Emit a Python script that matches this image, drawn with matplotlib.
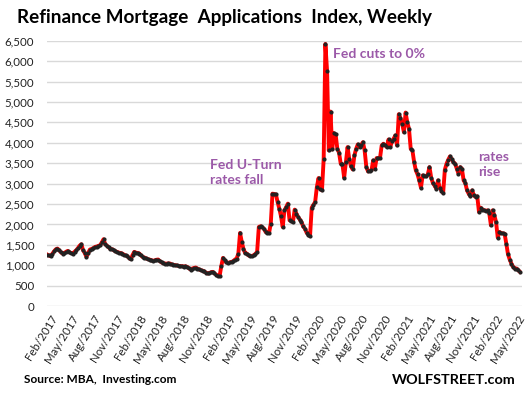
import numpy as np
import pandas as pd
import matplotlib
matplotlib.use("Agg")
from matplotlib import pyplot as plt
import matplotlib.dates as mdates
from matplotlib.ticker import FuncFormatter

plt.rcParams['font.family'] = ['Lato', 'DejaVu Sans']

# weekly refinance index (first week: 20 Jan 2017)
start = "2017-01-20"
refi_index = [
    1263, 1240, 1222, 1280, 1340, 1390, 1410, 1370, 1320, 1287,
    1300, 1330, 1352, 1320, 1300, 1287, 1330, 1369, 1420, 1480,
    1515, 1369, 1300, 1206, 1300, 1385, 1400, 1420, 1450, 1460,
    1475, 1491, 1560, 1638, 1515, 1480, 1440, 1400, 1393, 1370,
    1340, 1328, 1310, 1300, 1287, 1260, 1240, 1222, 1180, 1149,
    1250, 1328, 1310, 1300, 1287, 1240, 1200, 1190, 1170, 1149,
    1140, 1125, 1108, 1120, 1135, 1141, 1100, 1070, 1050, 1043,
    1040, 1045, 1043, 1020, 1010, 1002, 995, 985, 980, 978,
    970, 975, 961, 930, 896, 920, 935, 945, 920, 900,
    880, 870, 850, 820, 799, 810, 830, 839, 800, 770,
    740, 733, 977, 1181, 1120, 1070, 1059, 1070, 1083, 1100,
    1140, 1165, 1287, 1792, 1572, 1400, 1300, 1287, 1240, 1222,
    1230, 1246, 1280, 1328, 1939, 1955, 1930, 1898, 1816, 1800,
    1792, 2020, 2754, 2745, 2737, 2549, 2387, 2200, 1939, 2346,
    2420, 2510, 2102, 2080, 2061, 2363, 2265, 2183, 2120, 2061,
    1950, 1898, 1800, 1750, 1711, 2412, 2480, 2549, 2916, 3136,
    2875, 2835, 3609, 6420, 5750, 3812, 4765, 3837, 4235, 4203,
    3853, 3756, 3487, 3470, 3145, 3527, 3894, 3600, 3421, 3348,
    3690, 3850, 3959, 3894, 3950, 4015, 3812, 3405, 3299, 3310,
    3324, 3568, 3365, 3625, 3620, 3625, 3935, 3976, 3940, 3894,
    4081, 3894, 4032, 4100, 4179, 3935, 4700, 4600, 4465, 4260,
    4740, 4500, 4340, 3853, 3812, 3527, 3324, 3226, 3079, 2900,
    3201, 3190, 3177, 3226, 3405, 3145, 3013, 2950, 2876, 3079,
    2900, 2830, 2769, 3340, 3487, 3585, 3666, 3600, 3527, 3487,
    3365, 3243, 3405, 3365, 3079, 3013, 2835, 2750, 2688, 2835,
    2713, 2672, 2688, 2305, 2412, 2363, 2350, 2330, 2346, 2281,
    1979, 2346, 2224, 2061, 1679, 1816, 1792, 1780, 1775, 1532,
    1271, 1141, 1043, 961, 921, 921, 880, 839,
]
weeks = pd.date_range(start, periods=len(refi_index), freq="7D")

y_ticks = list(range(0, 7000, 500))
purple = "#9b59a8"

fig = plt.figure(figsize=(5.25, 3.95), dpi=100)
ax = fig.add_axes([0.089, 0.225, 0.906, 0.672])

ax.plot(weeks, refi_index, color="#ff0000", lw=2.8, zorder=3)
ax.plot(weeks, refi_index, ls="none", marker="o", ms=2.0,
        color="#222222", zorder=4)

ax.set_ylim(0, 6500)
ax.set_yticks(y_ticks)
ax.yaxis.set_major_formatter(FuncFormatter(lambda v, p: f"{int(v):,}"))
ax.grid(axis="y", color="#d9d9d9", lw=1.0)
ax.set_axisbelow(True)

ax.set_xlim(weeks[0] - pd.Timedelta(days=2), weeks[-1] + pd.Timedelta(days=10))
ax.xaxis.set_major_locator(mdates.MonthLocator(bymonth=[2, 5, 8, 11]))
ax.xaxis.set_major_formatter(mdates.DateFormatter("%b/%Y"))
plt.setp(ax.get_xticklabels(), rotation=58, ha="right",
         rotation_mode="anchor")
ax.tick_params(axis="both", length=0, labelsize=8.3, colors="#222222")
ax.tick_params(axis="y", pad=9)
ax.tick_params(axis="x", pad=5)
for s in ax.spines.values():
    s.set_visible(False)

fig.text(0.032, 0.955, "Refinance Mortgage  Applications  Index, Weekly",
         fontsize=13.6, fontweight="bold", va="center", ha="left")

ax.annotate("Fed cuts to 0%", xy=(pd.Timestamp("2020-04-08"), 6180),
            fontsize=10, fontweight="bold", color=purple, va="center")
ax.annotate("Fed U-Turn\nrates fall", xy=(pd.Timestamp("2018-11-20"), 3280),
            fontsize=10, fontweight="bold", color=purple, va="center",
            linespacing=1.3)
ax.annotate("rates\nrise", xy=(pd.Timestamp("2021-11-22"), 3480),
            fontsize=10, fontweight="bold", color=purple, va="center",
            linespacing=1.3)

fig.text(0.046, 0.038, "Source: MBA,  Investing.com", fontsize=8.6,
         fontweight="bold", va="center", ha="left")
fig.text(0.982, 0.038, "WOLFSTREET.com", fontsize=10.4,
         fontweight="bold", va="center", ha="right")

fig.savefig("out.png", dpi=100)
